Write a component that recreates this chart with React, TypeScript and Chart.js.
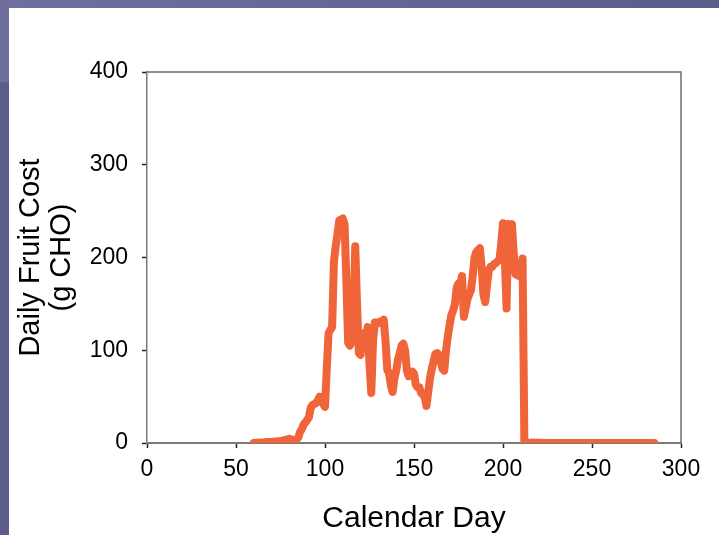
import React, { useEffect, useRef } from "react";
import { Chart, registerables } from "chart.js";

Chart.register(...registerables);

// Calendar day of each reading
const days = [
  60, 62, 64, 66, 68, 70, 72, 74, 76, 78, 79, 80, 81, 82, 83, 84, 85, 86, 87, 88, 89,
  90, 91, 92, 93, 94, 95, 96, 97, 98, 99, 100, 101, 102, 103, 104, 105, 106, 107, 108, 109,
  110, 111, 112, 113, 114, 115, 116, 117, 118, 119, 120, 121, 122, 123, 124, 125, 126, 127, 128, 129,
  130, 131, 132, 133, 134, 135, 136, 137, 138, 139, 140, 141, 142, 143, 144, 145, 146, 147, 148, 149,
  150, 151, 152, 153, 154, 155, 156, 157, 158, 159, 160, 161, 162, 163, 164, 165, 166, 167, 168, 169,
  170, 171, 172, 173, 174, 175, 176, 177, 178, 179, 180, 181, 182, 183, 184, 185, 186, 187, 188, 189,
  190, 191, 192, 193, 194, 195, 196, 197, 198, 199, 200, 201, 202, 203, 204, 205, 206, 207, 208, 209,
  210, 211, 212, 213, 225, 240, 255, 270, 285,
];

// Daily fruit cost (g CHO)
const fruitCost = [
  0, 0.3, 0.5, 0.7, 1, 1.2, 1.5, 1.8, 2.5, 3.5, 4, 4.5, 4, 3, 2.5, 4, 6, 12, 15, 20, 22,
  25, 28, 38, 41, 42, 43, 46, 50, 48, 42, 39, 80, 118, 122, 125, 195, 212, 225, 240, 241,
  242, 236, 175, 108, 105, 110, 140, 212, 150, 97, 95, 118, 106, 115, 125, 85, 54, 110, 130, 130,
  129, 131, 130, 133, 110, 79, 75, 62, 55, 70, 78, 90, 97, 105, 107, 100, 78, 72, 76, 77,
  75, 63, 60, 60, 54, 52, 50, 40, 55, 70, 80, 88, 96, 97, 95, 88, 80, 78, 100, 115,
  127, 138, 143, 150, 168, 172, 172, 180, 136, 145, 155, 160, 165, 180, 200, 206, 208, 210, 190, 160,
  152, 170, 186, 190, 190, 193, 194, 196, 197, 215, 237, 200, 145, 236, 233, 236, 205, 182, 181, 180,
  179, 199, 2, 0.5, 0, 0, 0, 0, 0,
];

const xTickStep = 50;
const xRange = [0, 300];
const yTickStep = 100;
const yRange = [0, 400];
const xTitle = "Calendar Day";
const yTitle = ["Daily Fruit Cost", "(g CHO)"];

const FONT = "'Liberation Sans', Arial, sans-serif";

const framePlugin = {
  id: "frame",
  beforeDatasetsDraw(chart: any) {
    const { ctx, chartArea } = chart;
    ctx.save();
    ctx.strokeStyle = "#6e6e6e";
    ctx.lineWidth = 1.5;
    ctx.beginPath();
    ctx.moveTo(chartArea.left, chartArea.top);
    ctx.lineTo(chartArea.right, chartArea.top);
    ctx.lineTo(chartArea.right, chartArea.bottom);
    ctx.stroke();
    ctx.restore();
  },
};

export default function App() {
  const ref = useRef<HTMLCanvasElement>(null);

  useEffect(() => {
    document.body.style.margin = "0";
    const canvas = ref.current!;
    const chart = new Chart(canvas, {
      type: "line",
      data: {
        datasets: [
          {
            data: days.map((d, i) => ({ x: d, y: fruitCost[i] })),
            borderColor: "#F0643A",
            borderWidth: 8,
            pointRadius: 0,
            tension: 0,
            fill: false,
            borderJoinStyle: "round",
            borderCapStyle: "round",
          },
        ],
      },
      options: {
        responsive: false,
        animation: false,
        devicePixelRatio: 1,
        layout: { padding: { top: 72, right: 38, left: 12, bottom: 0 } },
        plugins: {
          legend: { display: false },
          tooltip: { enabled: false },
        },
        scales: {
          x: {
            type: "linear",
            min: xRange[0],
            max: xRange[1],
            ticks: {
              stepSize: xTickStep,
              color: "#000",
              padding: 8,
              font: { family: FONT, size: 23 },
            },
            grid: {
              drawOnChartArea: false,
              drawTicks: true,
              tickLength: 5,
              tickColor: "#222",
              tickWidth: 1.5,
            },
            border: { color: "#7a7a7a", width: 2 },
            title: {
              display: true,
              text: xTitle,
              color: "#000",
              padding: { top: 0, bottom: 0 },
              font: { family: FONT, size: 30, lineHeight: 1.1 },
            },
            afterFit(scale: any) {
              scale.height = 92;
            },
          },
          y: {
            type: "linear",
            min: yRange[0],
            max: yRange[1],
            ticks: {
              stepSize: yTickStep,
              color: "#000",
              padding: 14,
              font: { family: FONT, size: 23 },
            },
            grid: {
              drawOnChartArea: false,
              drawTicks: true,
              tickLength: 5,
              tickColor: "#222",
              tickWidth: 1.5,
            },
            border: { color: "#7a7a7a", width: 1.5 },
            title: {
              display: true,
              text: yTitle,
              color: "#000",
              padding: { top: 3, bottom: 0 },
              font: { family: FONT, size: 29, lineHeight: 1.07 },
            },
            afterFit(scale: any) {
              scale.width = 135;
            },
          },
        },
      },
      plugins: [framePlugin],
    } as any);
    return () => chart.destroy();
  }, []);

  return (
    <div
      style={{
        position: "fixed",
        left: 0,
        top: 0,
        width: 719,
        height: 535,
        background: "#ffffff",
        overflow: "hidden",
      }}
    >
      <div
        style={{
          position: "absolute",
          left: 0,
          top: 0,
          width: 719,
          height: 8,
          background: "linear-gradient(to right, #7070a0, #5b5b8c)",
        }}
      />
      <div
        style={{
          position: "absolute",
          left: 0,
          top: 0,
          width: 9,
          height: 82,
          background: "#6f6f9f",
        }}
      />
      <div
        style={{
          position: "absolute",
          left: 0,
          top: 82,
          width: 9,
          height: 453,
          background: "#5d5d8d",
        }}
      />
      <canvas
        ref={ref}
        width={719}
        height={535}
        style={{ position: "absolute", left: 0, top: 0, width: 719, height: 535 }}
      />
    </div>
  );
}
